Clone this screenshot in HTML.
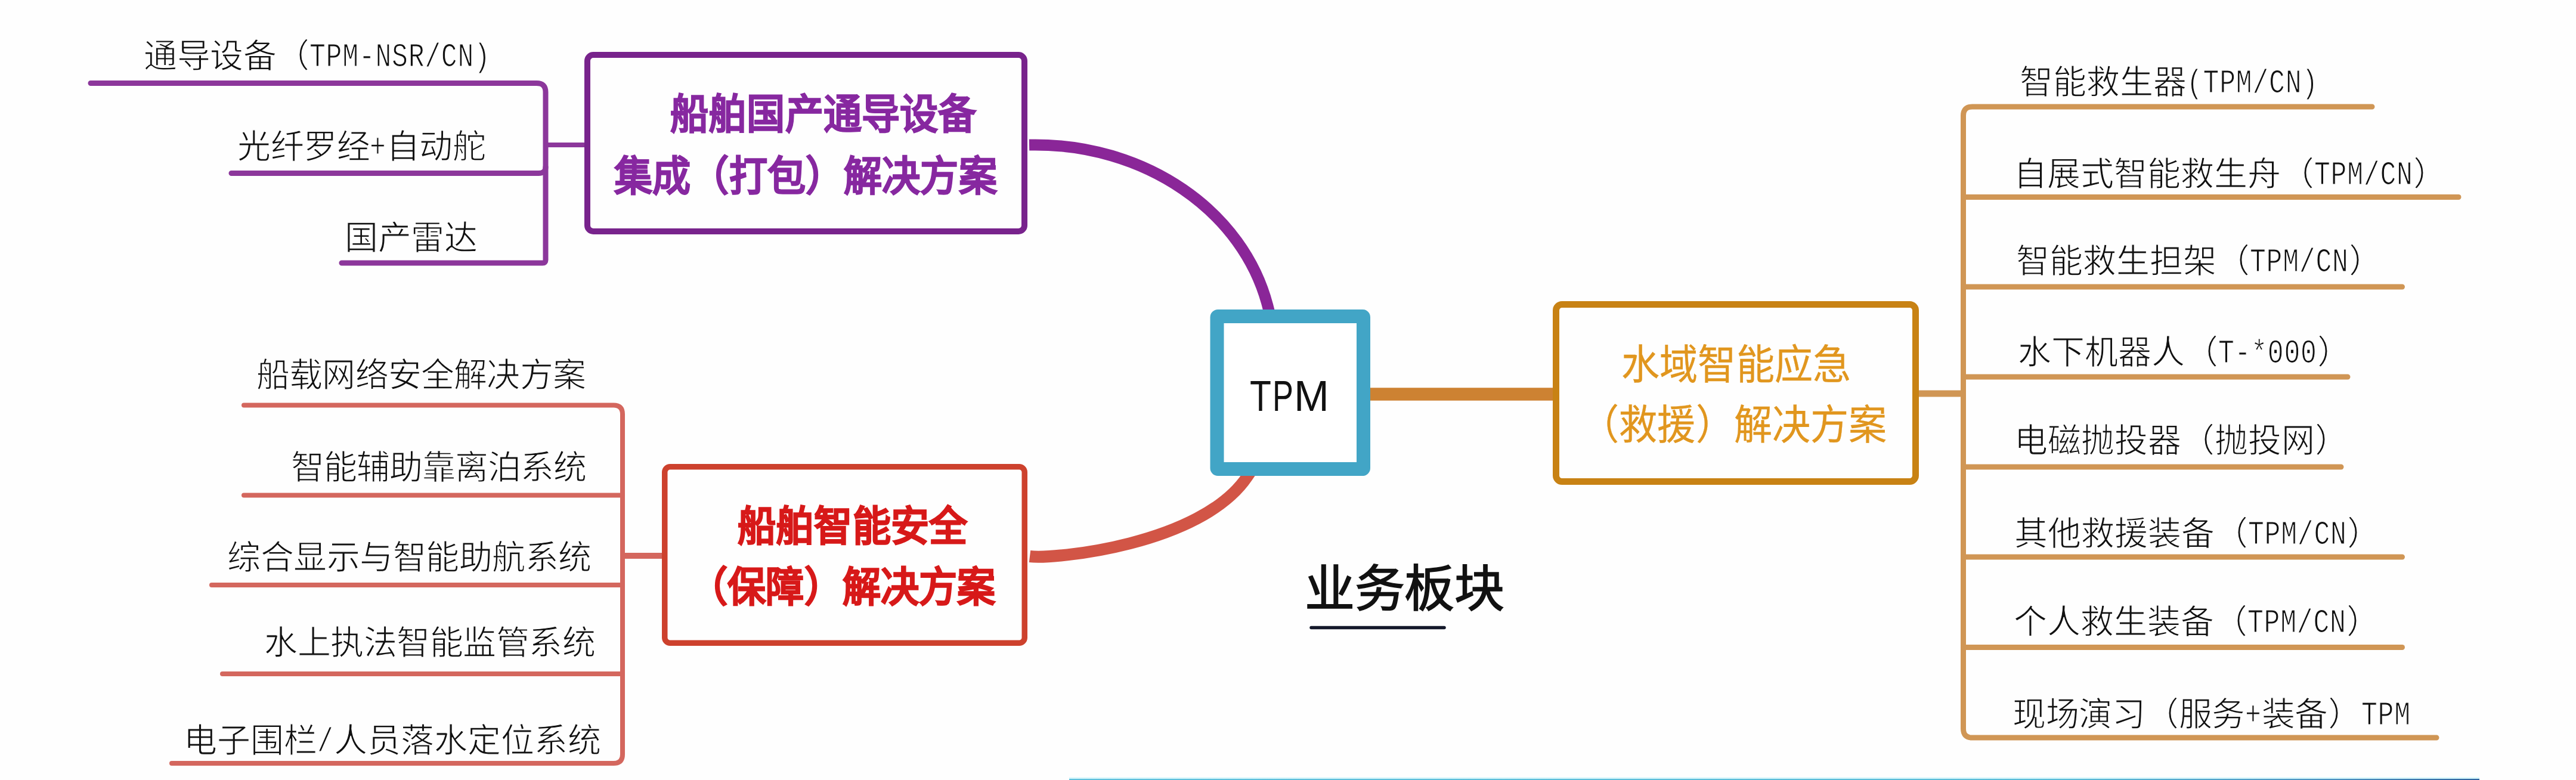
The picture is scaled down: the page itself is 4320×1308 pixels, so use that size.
<!DOCTYPE html>
<html lang="zh-CN">
<head>
<meta charset="utf-8">
<style>
html,body{margin:0;padding:0;}
body{width:4320px;height:1308px;overflow:hidden;background:#fefefe;position:relative;font-family:"Liberation Sans",sans-serif;}
svg{position:absolute;left:0;top:0;}
.t{position:absolute;white-space:nowrap;font-size:56px;line-height:56px;color:#111;font-weight:400;letter-spacing:-0.5px;-webkit-text-stroke:1.2px #fff;paint-order:normal;}
.m{font-family:"Liberation Mono",monospace;font-size:56px;letter-spacing:0.9px;display:inline-block;transform:translateY(-2px) scaleX(0.8);transform-origin:0 50%;}
.tp{position:absolute;top:627.8px;font-size:72px;line-height:72px;color:#111;transform-origin:0 0;}
.b{position:absolute;white-space:nowrap;font-size:69px;line-height:69px;font-weight:700;letter-spacing:0;transform-origin:0 0;transform:scaleX(0.93);}
</style>
</head>
<body>
<svg width="4320" height="1308" viewBox="0 0 4320 1308">
  <defs>
    <linearGradient id="cy" x1="0" x2="1"><stop offset="0" stop-color="#5ec0dc"/><stop offset="0.7" stop-color="#5abcd8"/><stop offset="0.9" stop-color="#4a90c0"/><stop offset="1" stop-color="#2f65a0"/></linearGradient>
  </defs>
  <!-- purple tree -->
  <g fill="none" stroke="#8c379b" stroke-width="9" stroke-linecap="round">
    <path d="M152,139.5 H900 Q915,139.5 915,154.5 V436 Q915,441 910,441 H573"/>
    <path d="M388,290.5 H903 Q915,290.5 915,280"/>
    <path d="M915,243 H980" stroke-width="8" stroke-linecap="butt"/>
  </g>
  <rect x="985" y="92" width="733" height="296" rx="10" fill="none" stroke="#78238c" stroke-width="10"/>
  <!-- red tree -->
  <g fill="none" stroke="#d4675e" stroke-width="8" stroke-linecap="round">
    <path d="M409,679.5 H1029 Q1044,679.5 1044,694.5 V1265 Q1044,1280 1029,1280 H288"/>
    <path d="M409,830.5 H1044"/>
    <path d="M355,981 H1044"/>
    <path d="M373,1130 H1044"/>
    <path d="M1048,932 H1110" stroke-width="10" stroke-linecap="butt"/>
  </g>
  <rect x="1114.75" y="782.75" width="603.5" height="295.5" rx="9" fill="none" stroke="#cd412d" stroke-width="9.5"/>
  <!-- curves -->
  <path d="M1726,243 C1919,239 2087,354 2127,517 L2131,533" fill="none" stroke="#8a2698" stroke-width="19"/>
  <path d="M1727,933 C1767,938 2014,914 2091.5,799.5 L2100,787" fill="none" stroke="#d25546" stroke-width="20"/>
  <!-- orange connector -->
  <path d="M2290,661 H2605" fill="none" stroke="#cd8232" stroke-width="21.5"/>
  <!-- TPM box -->
  <rect x="2041" y="530.5" width="245.5" height="256" rx="1.5" fill="#fff" stroke="#42a5c6" stroke-width="23"/>
  <!-- orange box -->
  <rect x="2609.5" y="510.5" width="603" height="297" rx="10" fill="none" stroke="#c88214" stroke-width="11"/>
  <!-- orange tree -->
  <g fill="none" stroke="#d09655" stroke-width="9" stroke-linecap="round">
    <path d="M3978,179 H3307.5 Q3292.5,179 3292.5,194 V1222 Q3292.5,1237 3307.5,1237 H4086"/>
    <path d="M3292.5,330.5 H4123"/>
    <path d="M3292.5,481 H4028.5"/>
    <path d="M3292.5,632 H3937"/>
    <path d="M3292.5,783 H3926"/>
    <path d="M3292.5,934 H4028.5"/>
    <path d="M3292.5,1085.5 H4028.5"/>
    <path d="M3218,660 H3292" stroke-width="11" stroke-linecap="butt"/>
  </g>
  <!-- underline -->
  <path d="M2199,1052.6 H2422" stroke="#14182a" stroke-width="5.5" stroke-linecap="round"/>
  <!-- bottom cyan line -->
  <rect x="1793" y="1303.5" width="2365" height="3" fill="#d6f6fb"/>
  <rect x="1793" y="1306" width="2365" height="2" fill="url(#cy)"/>
</svg>

<!-- purple branch texts -->
<div class="t" style="left:241px;top:66px;">通导设备（<span class="m" style="width:303.6px">TPM-NSR/CN)</span></div>
<div class="t" style="left:398px;top:218px;">光纤罗经<span class="m" style="width:27.6px">+</span>自动舵</div>
<div class="t" style="left:578px;top:371px;">国产雷达</div>

<!-- red branch texts -->
<div class="t" style="left:430px;top:601px;letter-spacing:-0.8px;">船载网络安全解决方案</div>
<div class="t" style="left:488px;top:756px;letter-spacing:-1px;">智能辅助靠离泊系统</div>
<div class="t" style="left:381px;top:907px;">综合显示与智能助航系统</div>
<div class="t" style="left:443px;top:1050px;">水上执法智能监管系统</div>
<div class="t" style="left:308px;top:1214px;letter-spacing:0px;">电子围栏<span class="m" style="width:27.6px">/</span>人员落水定位系统</div>

<!-- right branch texts -->
<div class="t" style="left:3387px;top:110px;letter-spacing:0px;">智能救生器<span class="m" style="width:220.8px">(TPM/CN)</span></div>
<div class="t" style="left:3377px;top:264px;letter-spacing:0px;">自展式智能救生舟（<span class="m" style="width:165.6px">TPM/CN</span>）</div>
<div class="t" style="left:3381px;top:410px;letter-spacing:0px;">智能救生担架（<span class="m" style="width:165.6px">TPM/CN</span>）</div>
<div class="t" style="left:3384px;top:563px;letter-spacing:0px;">水下机器人（<span class="m" style="width:165.6px">T-*000</span>）</div>
<div class="t" style="left:3378px;top:711px;letter-spacing:0px;">电磁抛投器（抛投网）</div>
<div class="t" style="left:3378px;top:867px;letter-spacing:0px;">其他救援装备（<span class="m" style="width:165.6px">TPM/CN</span>）</div>
<div class="t" style="left:3377px;top:1015px;letter-spacing:0px;">个人救生装备（<span class="m" style="width:165.6px">TPM/CN</span>）</div>
<div class="t" style="left:3375px;top:1170px;letter-spacing:-0.3px;">现场演习（服务<span class="m" style="width:27.6px">+</span>装备）<span class="m" style="width:82.8px">TPM</span></div>

<!-- box titles -->
<div class="b" style="left:1124px;top:158px;color:#8728a0;-webkit-text-stroke:1.3px #8728a0;">船舶国产通导设备</div>
<div class="b" style="left:1030px;top:262px;color:#8728a0;-webkit-text-stroke:1.3px #8728a0;">集成（打包）解决方案</div>
<div class="b" style="left:1237px;top:849px;color:#d71919;-webkit-text-stroke:1.5px #d71919;">船舶智能安全</div>
<div class="b" style="left:1156px;top:951px;color:#d71919;-webkit-text-stroke:1.5px #d71919;">（保障）解决方案</div>
<div class="b" style="left:2719px;top:578px;color:#e1961e;font-weight:400;-webkit-text-stroke:0.3px #e1961e;">水域智能应急</div>
<div class="b" style="left:2651px;top:679px;color:#e1961e;font-weight:400;-webkit-text-stroke:0.3px #e1961e;">（救援）解决方案</div>

<div class="tp" style="left:2096.3px;transform:scaleX(0.816);">T</div>
<div class="tp" style="left:2134.4px;transform:scaleX(0.727);">P</div>
<div class="tp" style="left:2169.8px;transform:scaleX(0.98);">M</div>
<div class="t" style="left:2188px;top:946px;font-size:84px;line-height:84px;color:#111;font-weight:400;-webkit-text-stroke:1.6px #111;">业务板块</div>
</body>
</html>
